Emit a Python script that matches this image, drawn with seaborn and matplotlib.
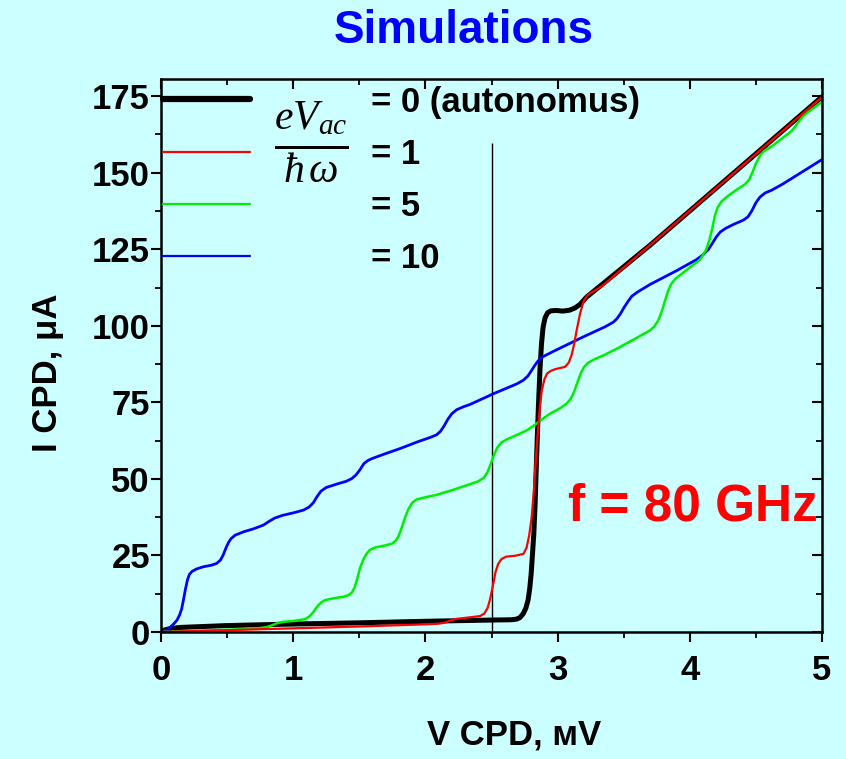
import numpy as np
import pandas as pd
import matplotlib
matplotlib.use("Agg")
import matplotlib.pyplot as plt
from matplotlib.lines import Line2D
from matplotlib.ticker import MultipleLocator
import seaborn as sns

# ---------------- data ----------------
black_x = [0, 0.03, 0.08, 0.15, 0.5, 1.0, 1.5, 2.0, 2.5, 2.65, 2.69, 2.715, 2.74, 2.76,
           2.777, 2.79, 2.8, 2.81, 2.82, 2.83, 2.842, 2.855, 2.867, 2.878, 2.89, 2.905,
           2.925, 2.95, 2.99, 3.04, 3.09, 3.13, 3.17, 3.22, 3.699, 5.0]
black_y = [0.2, 0.7, 1.2, 1.5, 2.1, 2.6, 3.0, 3.5, 3.9, 4.0, 4.2, 4.7, 6.0, 7.8,
           10.5, 14.5, 19.0, 25.4, 32.0, 42.0, 58.0, 74.0, 86.0, 94.0, 99.5, 102.6,
           104.3, 104.9, 105.0, 104.8, 105.1, 105.8, 107.0, 109.4, 126.3, 174.8]

red_x = [0, 0.5, 1.0, 1.5, 2.0, 2.1, 2.15, 2.19, 2.237, 2.3, 2.413, 2.445, 2.47, 2.49,
         2.51, 2.53, 2.55, 2.575, 2.61, 2.678, 2.741, 2.765, 2.785, 2.804, 2.82, 2.835,
         2.85, 2.865, 2.88, 2.9, 2.92, 2.95, 2.98, 3.056, 3.085, 3.107, 3.125, 3.144,
         3.17, 3.195, 3.22, 3.245, 3.3, 3.346, 5.0]
red_y = [0, 0.6, 1.2, 1.8, 2.5, 2.7, 3.1, 3.8, 4.3, 4.6, 5.2, 6.0, 7.8, 10.8,
         15.0, 19.5, 22.2, 23.8, 24.6, 24.9, 25.5, 27.5, 31.5, 37.5, 46.0, 56.0,
         65.0, 73.0, 78.8, 82.5, 84.4, 85.3, 85.8, 86.6, 88.0, 90.6, 94.0, 98.5,
         104.0, 107.8, 109.7, 110.6, 112.0, 113.3, 174.7]

green_x = [0, 0.3, 0.6, 0.75, 0.8, 0.84, 0.88, 0.92, 1.0, 1.089, 1.12, 1.15, 1.18, 1.21,
           1.24, 1.303, 1.38, 1.417, 1.445, 1.465, 1.485, 1.505, 1.53, 1.555, 1.58, 1.62,
           1.7, 1.75, 1.78, 1.8, 1.82, 1.845, 1.87, 1.9, 1.934, 2.0, 2.085, 2.2, 2.312,
           2.4, 2.44, 2.47, 2.495, 2.52, 2.545, 2.575, 2.615, 2.7, 2.766, 2.82, 2.867,
           2.943, 3.02, 3.069, 3.1, 3.125, 3.15, 3.175, 3.2, 3.23, 3.28, 3.35, 3.447,
           3.6, 3.699, 3.73, 3.76, 3.785, 3.81, 3.835, 3.86, 3.89, 3.951, 4.077, 4.12,
           4.145, 4.17, 4.19, 4.21, 4.24, 4.279, 4.35, 4.42, 4.45, 4.475, 4.5, 4.53,
           4.556, 4.62, 4.707, 4.77, 4.8, 4.83, 4.86, 4.9, 5.0]
green_y = [0, 0.4, 0.9, 1.3, 1.6, 2.2, 2.9, 3.3, 3.6, 4.2, 5.0, 6.4, 8.2, 9.6,
           10.4, 11.0, 11.5, 12.0, 12.9, 14.6, 17.5, 20.8, 23.6, 25.6, 26.8, 27.6,
           28.3, 28.9, 30.0, 31.6, 34.0, 37.2, 40.0, 42.2, 43.3, 44.0, 44.8, 46.3, 47.9,
           49.2, 50.3, 52.2, 55.0, 58.0, 60.3, 61.9, 62.9, 64.5, 65.8, 67.4, 69.0,
           71.3, 73.1, 74.6, 76.2, 78.5, 81.5, 84.5, 86.5, 87.9, 89.1, 90.4, 92.5,
           96.1, 98.5, 99.7, 101.6, 104.3, 107.8, 111.3, 113.7, 115.3, 117.4, 121.6, 124.5,
           127.5, 131.8, 136.0, 138.6, 140.6, 142.1, 144.3, 146.3, 147.8, 150.2, 153.0, 155.5,
           156.9, 158.6, 161.5, 163.6, 165.2, 167.1, 168.6, 170.0, 173.1]

blue_x = [0, 0.05, 0.093, 0.12, 0.14, 0.156, 0.17, 0.185, 0.2, 0.215, 0.235, 0.27, 0.32,
          0.38, 0.421, 0.45, 0.471, 0.49, 0.51, 0.53, 0.56, 0.623, 0.7, 0.774, 0.82, 0.86,
          0.92, 1.0, 1.077, 1.12, 1.152, 1.18, 1.21, 1.25, 1.329, 1.4, 1.443, 1.475, 1.505,
          1.535, 1.565, 1.6, 1.682, 1.808, 1.934, 2.04, 2.085, 2.115, 2.14, 2.17, 2.2,
          2.237, 2.29, 2.337, 2.514, 2.69, 2.74, 2.775, 2.8, 2.825, 2.85, 2.88, 2.92,
          2.98, 3.195, 3.36, 3.422, 3.45, 3.475, 3.5, 3.53, 3.56, 3.6, 3.699, 3.9,
          4.05, 4.1, 4.14, 4.17, 4.2, 4.23, 4.27, 4.33, 4.405, 4.44, 4.47, 4.5, 4.53,
          4.57, 4.62, 4.707, 5.0]
blue_y = [0, 0.8, 2.5, 3.8, 5.5, 7.5, 10.5, 14.0, 17.0, 18.8, 19.8, 20.6, 21.3,
          21.8, 22.4, 23.5, 25.2, 27.3, 29.2, 30.5, 31.6, 32.7, 33.7, 34.9, 36.2, 37.2,
          38.1, 38.9, 39.8, 40.8, 42.2, 44.2, 46.0, 47.2, 48.3, 49.2, 50.1, 51.3, 53.0,
          55.0, 56.0, 56.7, 58.0, 59.9, 62.0, 63.6, 64.4, 65.6, 67.2, 69.5, 71.3,
          72.6, 73.6, 74.3, 77.8, 81.0, 82.2, 83.6, 85.2, 86.9, 88.4, 89.7, 90.6,
          91.9, 96.4, 99.7, 101.2, 102.4, 103.9, 105.8, 107.8, 109.6, 110.9, 113.5, 118.0,
          121.6, 123.2, 124.9, 126.9, 129.0, 130.6, 131.8, 133.1, 134.5, 135.6, 137.6, 140.2, 142.0,
          143.4, 144.3, 146.4, 154.3]

legend_labels = ["= 0 (autonomus)", "= 1", "= 5", "= 10"]
vline_x = 2.5
vline_top = 159.6
x_ticks = [0, 1, 2, 3, 4, 5]
y_ticks = [0, 25, 50, 75, 100, 125, 150, 175]

# ---------------- styling ----------------
BG = "#CCFFFF"
sns.set_theme(style="ticks")
plt.rcParams["font.family"] = ["Liberation Sans", "DejaVu Sans"]
plt.rcParams["font.weight"] = "normal"
plt.rcParams["mathtext.fontset"] = "custom"
plt.rcParams["mathtext.it"] = "Liberation Serif:italic"
plt.rcParams["mathtext.rm"] = "Liberation Serif"
plt.rcParams["mathtext.fallback"] = "stix"
plt.rcParams["text.color"] = "black"
plt.rcParams["axes.labelcolor"] = "black"
plt.rcParams["xtick.color"] = "black"
plt.rcParams["ytick.color"] = "black"

fig = plt.figure(figsize=(8.46, 7.59), dpi=100, facecolor=BG)
ax = fig.add_axes([161 / 846, 1 - 632 / 759, 661 / 846, 553 / 759])
ax.set_facecolor(BG)

series = {
    "black": (black_x, black_y, "black", 3.6),
    "red": (red_x, red_y, "#FF0000", 1.6),
    "green": (green_x, green_y, "#00EE00", 1.8),
    "blue": (blue_x, blue_y, "#0000FF", 2.0),
}
for name in ["black", "blue", "green", "red"]:
    xs, ys, col, lw = series[name]
    df = pd.DataFrame({"V": xs, "I": ys})
    sns.lineplot(data=df, x="V", y="I", ax=ax, color=col, linewidth=lw,
                 sort=False, estimator=None, legend=False)

ax.vlines(vline_x, 0, vline_top, color="black", linewidth=1.0, zorder=1)

ax.set_xlim(0, 5)
ax.set_ylim(0, 180.6)
ax.set_xticks(x_ticks)
ax.set_yticks(y_ticks)
ax.xaxis.set_minor_locator(MultipleLocator(0.5))
ax.yaxis.set_minor_locator(MultipleLocator(12.5))
for s in ax.spines.values():
    s.set_visible(True)
    s.set_linewidth(1.8)
    s.set_color("black")
ax.tick_params(axis="both", which="major", length=7, width=1.5, color="black",
               labelsize=25, labelcolor="black", direction="out")
ax.tick_params(axis="both", which="minor", length=4.5, width=1.3, color="black", direction="out")
ax.tick_params(axis="x", which="major", pad=9)
ax.tick_params(axis="y", which="major", pad=1)
ax.tick_params(top=True, right=True, which="both")
ax.set_xticklabels([str(v) for v in x_ticks], fontweight="bold", fontsize=25)
ax.set_yticklabels([str(v) for v in y_ticks], fontweight="bold", fontsize=25)
for tick in ax.xaxis.get_major_ticks() + ax.xaxis.get_minor_ticks():
    tick.tick2line.set_marker(3)  # inward at top
for tick in ax.yaxis.get_major_ticks() + ax.yaxis.get_minor_ticks():
    tick.tick2line.set_marker(0)  # inward at right

ax.set_xlabel("V CPD, мV", fontsize=25, fontweight="bold", color="black")
ax.set_ylabel("I CPD, μA", fontsize=25, fontweight="bold", color="black")
ax.xaxis.set_label_coords((514 - 161) / 661, (632 - 718) / 553)
ax.yaxis.set_label_coords((64 - 161) / 661, (632 - 373) / 553)

# legend
handles = [Line2D([], [], color=series[n][2], linewidth=(4.5 if n == "black" else 1.6))
           for n in ["black", "red", "green", "blue"]]
leg = ax.legend(handles, legend_labels, loc="upper left", frameon=False,
                prop={"size": 25, "weight": "bold"}, handlelength=2.5,
                handletextpad=3.5, labelspacing=0.55, borderpad=0.0,
                borderaxespad=0.0, bbox_to_anchor=(0.003, 0.988))
for t in leg.get_texts():
    t.set_color("black")

ax.text((311 - 161) / 661, (632 - 142) / 553, r"$\frac{eV_{ac}}{\hbar\,\omega}$",
        transform=ax.transAxes, fontsize=43, fontweight="normal",
        ha="center", va="center", color="black")

ax.text(4.97, 36.3, "f = 80 GHz", color="#FF0000", fontsize=37, fontweight="bold",
        ha="right", va="baseline")

fig.text(464 / 846, 1 - 31 / 759, "Simulations", color="#0000FF", fontsize=33,
         fontweight="bold", ha="center", va="center")

fig.savefig("out.png", dpi=100, facecolor=BG)
